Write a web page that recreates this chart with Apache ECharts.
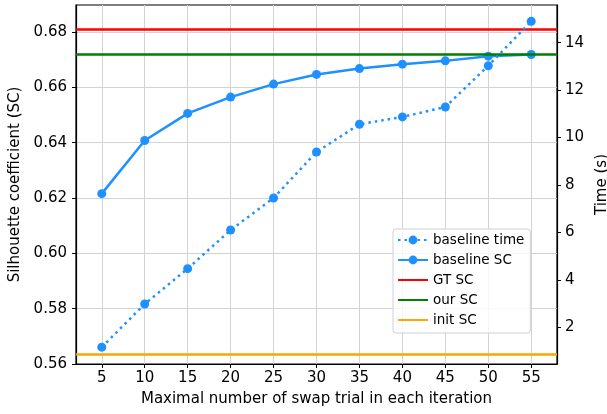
<!DOCTYPE html>
<html>
<head>
<meta charset="utf-8">
<script src="https://cdn.jsdelivr.net/npm/echarts@6/dist/echarts.min.js"></script>
<style>
  html, body { margin: 0; padding: 0; background: #fff; }
  #chart { width: 607px; height: 414px; }
</style>
</head>
<body>
<div id="chart"></div>
<script>
// swap trials per iteration
let trials = [5, 10, 15, 20, 25, 30, 35, 40, 45, 50, 55];
// baseline timings (s), right axis
let baselineTime = [1.16, 2.98, 4.47, 6.10, 7.45, 9.39, 10.56, 10.87, 11.29, 13.03, 14.90];
// baseline silhouette coefficient, left axis
let baselineSC = [0.6216, 0.6408, 0.6506, 0.6565, 0.6612, 0.6647, 0.6668, 0.6684, 0.6696, 0.6713, 0.6719];
// reference levels
let gtSC = 0.681;
let ourSC = 0.6719;
let initSC = 0.5637;

let scTicks = [0.56, 0.58, 0.60, 0.62, 0.64, 0.66, 0.68];
let timeTicks = [2, 4, 6, 8, 10, 12, 14];

let font = 'DejaVu Sans';
let blue = '#1E90FF';

let pairs = function (xs, ys) {
    return xs.map(function (x, i) { return [x, ys[i]]; });
};

// horizontal reference line drawn as markLine on an empty series
let levelSeries = function (name, value, color) {
    return {
        name: name,
        type: 'line',
        yAxisIndex: 0,
        data: [],
        symbol: 'none',
        color: color,
        lineStyle: { color: color, width: 2.5 },
        markLine: {
            silent: true,
            symbol: 'none',
            precision: 5,
            label: { show: false },
            lineStyle: { color: color, width: 2.5, type: 'solid' },
            data: [{ yAxis: value }]
        },
        z: 2
    };
};

let chart = echarts.init(document.getElementById('chart'));
chart.setOption({
    animation: false,
    textStyle: { fontFamily: font },
    grid: {
        left: 76, right: 50, top: 5, bottom: 50,
        show: true, borderColor: '#000', borderWidth: 1.2,
        containLabel: false,
        outerBoundsMode: 'none'
    },
    legend: {
        orient: 'vertical',
        left: 393, top: 229,
        padding: [4, 6, 6, 4],
        itemWidth: 30, itemHeight: 11, itemGap: 6,
        backgroundColor: 'rgba(255,255,255,0.8)',
        borderColor: '#d0d0d0', borderWidth: 1, borderRadius: 3,
        textStyle: { fontFamily: font, fontSize: 13.5, color: '#000' },
        data: [
            'baseline time',
            'baseline SC',
            { name: 'GT SC', itemStyle: { opacity: 0 } },
            { name: 'our SC', itemStyle: { opacity: 0 } },
            { name: 'init SC', itemStyle: { opacity: 0 } }
        ]
    },
    xAxis: {
        type: 'value',
        min: 2, max: 58,
        name: 'Maximal number of swap trial in each iteration',
        nameLocation: 'middle', nameGap: 28,
        nameTextStyle: { fontFamily: font, fontSize: 15, color: '#000' },
        axisLine: { lineStyle: { color: '#000', width: 1.2 } },
        axisTick: { show: true, length: 4, customValues: trials, lineStyle: { color: '#000' } },
        axisLabel: { customValues: trials, fontFamily: font, fontSize: 15, color: '#000', margin: 7 },
        splitLine: { show: true, lineStyle: { color: '#d3d3d3', width: 1 } }
    },
    yAxis: [{
        type: 'value',
        min: 0.56, max: 0.6898,
        name: 'Silhouette coefficient (SC)',
        nameLocation: 'middle', nameGap: 52, nameRotate: 90,
        nameTextStyle: { fontFamily: font, fontSize: 15, color: '#000' },
        axisLine: { show: true, lineStyle: { color: '#000', width: 1.2 } },
        axisTick: { show: true, length: 4, customValues: scTicks, lineStyle: { color: '#000' } },
        axisLabel: {
            customValues: scTicks, fontFamily: font, fontSize: 15, color: '#000', margin: 9,
            formatter: function (v) { return v.toFixed(2); }
        },
        splitLine: { show: true, lineStyle: { color: '#d3d3d3', width: 1 } }
    }, {
        type: 'value',
        position: 'right',
        min: 0.45, max: 15.59,
        name: 'Time (s)',
        nameLocation: 'middle', nameGap: 34, nameRotate: 90,
        nameTextStyle: { fontFamily: font, fontSize: 15, color: '#000' },
        axisLine: { show: true, lineStyle: { color: '#000', width: 1.2 } },
        axisTick: { show: true, length: 4, customValues: timeTicks, lineStyle: { color: '#000' } },
        axisLabel: { customValues: timeTicks, fontFamily: font, fontSize: 15, color: '#000', margin: 8 },
        splitLine: { show: false }
    }],
    series: [{
        name: 'baseline time',
        type: 'line',
        yAxisIndex: 1,
        data: pairs(trials, baselineTime),
        symbol: 'circle', symbolSize: 9,
        color: blue,
        lineStyle: { color: blue, width: 2.5, type: [2.5, 4] },
        itemStyle: { color: blue },
        z: 5
    }, {
        name: 'baseline SC',
        type: 'line',
        yAxisIndex: 0,
        data: pairs(trials, baselineSC),
        symbol: 'circle', symbolSize: 9,
        color: blue,
        lineStyle: { color: blue, width: 2.5 },
        itemStyle: { color: blue },
        z: 4
    },
        levelSeries('GT SC', gtSC, '#FF0000'),
        levelSeries('our SC', ourSC, '#008000'),
        levelSeries('init SC', initSC, '#FFA500')
    ]
});
</script>
</body>
</html>
